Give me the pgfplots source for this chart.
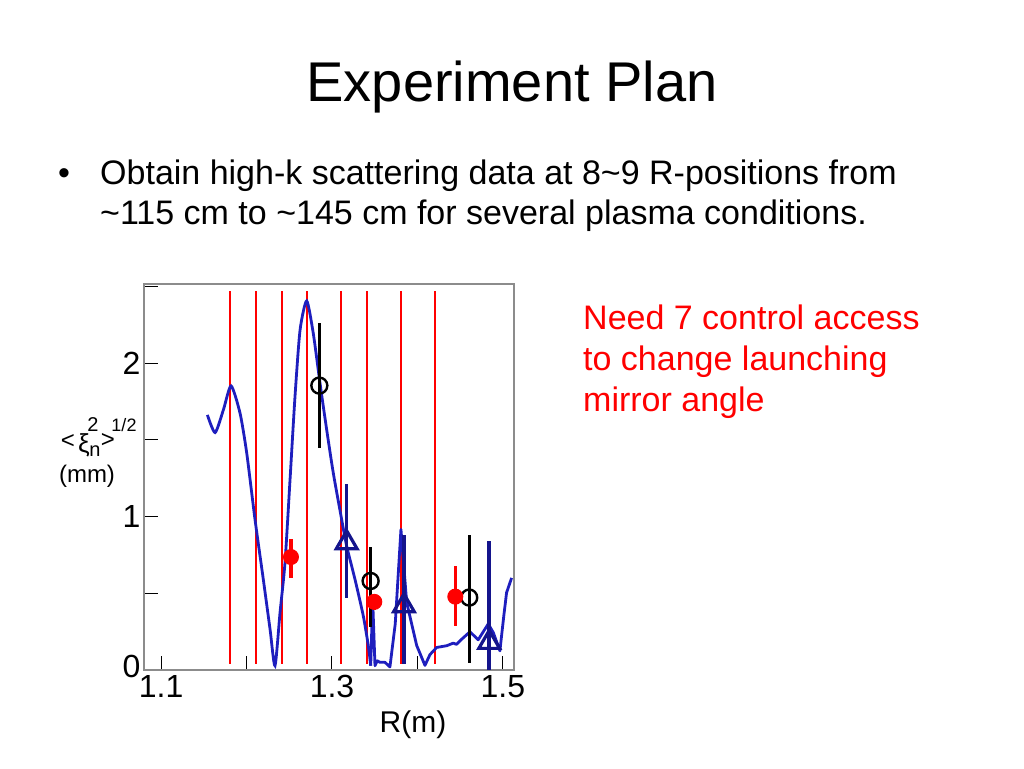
\documentclass[border=0pt]{standalone}
\usepackage{fontspec}
\setmainfont{Liberation Sans}
\usepackage{pgfplots}
\pgfplotsset{compat=1.18}
\definecolor{curveblue}{RGB}{30,30,190}
\definecolor{markblue}{RGB}{20,20,140}
\definecolor{framegray}{RGB}{140,140,140}
\begin{document}
\begin{tikzpicture}
\path[use as bounding box] (0pt,0pt) rectangle (1024pt,768pt);
% slide text
\node[anchor=base, inner sep=0pt, font=\fontsize{56}{56}\selectfont] at (512pt,666pt) {Experiment Plan};
\node[anchor=base west, inner sep=0pt, font=\fontsize{34}{34}\selectfont] at (58pt,583pt) {•};
\node[anchor=base west, inner sep=0pt, font=\fontsize{34}{34}\selectfont] at (100pt,583pt) {Obtain high-k scattering data at 8\textasciitilde 9 R-positions from};
\node[anchor=base west, inner sep=0pt, font=\fontsize{34}{34}\selectfont] at (100pt,543pt) {\textasciitilde 115 cm to \textasciitilde 145 cm for several plasma conditions.};
\node[anchor=base west, inner sep=0pt, text=red, font=\fontsize{34}{34}\selectfont] at (583pt,438pt) {Need 7 control access};
\node[anchor=base west, inner sep=0pt, text=red, font=\fontsize{34}{34}\selectfont] at (583pt,397pt) {to change launching};
\node[anchor=base west, inner sep=0pt, text=red, font=\fontsize{34}{34}\selectfont] at (583pt,356pt) {mirror angle};
% y label pieces
\node[inner sep=0pt, font=\fontsize{24}{24}\selectfont] at (68pt,326pt) {<};
\node[inner sep=0pt, font=\fontsize{26}{26}\selectfont] at (84pt,323pt) {ξ};
\node[inner sep=0pt, font=\fontsize{20}{20}\selectfont] at (93pt,343pt) {2};
\node[inner sep=0pt, font=\fontsize{20}{20}\selectfont] at (95pt,317pt) {n};
\node[inner sep=0pt, font=\fontsize{24}{24}\selectfont] at (108pt,327pt) {>};
\node[inner sep=0pt, font=\fontsize{18}{18}\selectfont] at (124pt,343pt) {1/2};
\node[inner sep=0pt, font=\fontsize{24}{24}\selectfont] at (87pt,292pt) {(mm)};
\begin{axis}[
    at={(144pt,98pt)}, anchor=south west,
    scale only axis, width=370pt, height=386pt,
    xmin=1.08, xmax=1.513, ymin=0, ymax=2.515,
    axis line style={framegray, line width=1.8pt},
    tick align=inside, xtick pos=left, ytick pos=left,
    major tick length=14pt,
    tick style={black, line width=1pt},
    xtick={1.1,1.2,1.3,1.4,1.5}, xticklabels={1.1,,1.3,,1.5},
    ytick={0,0.5,1,1.5,2,2.5}, yticklabels={\raisebox{8pt}{0},,1,,2,},
    /pgf/number format/assume math mode=true,
    ticklabel style={font=\fontsize{32}{32}\selectfont},
    xticklabel style={yshift=-2pt},
    xlabel={R(m)}, xlabel style={font=\fontsize{30}{30}\selectfont, xshift=84pt, yshift=-6pt},
    error bars/error mark=none,
]
% launch positions
\pgfplotsinvokeforeach{1.1807,1.2108,1.2411,1.2704,1.3105,1.3406,1.3803,1.4205}{
  \addplot[red, line width=2.2pt, forget plot] coordinates {(#1,0.04) (#1,2.47)};
}
% model profile, smooth part
\addplot[curveblue, line width=2.8pt, smooth, tension=0.4] coordinates {
(1.1542,1.662) (1.1632,1.547) (1.1729,1.695) (1.1819,1.851) (1.1924,1.673)
(1.2002,1.414) (1.2099,0.981) (1.2196,0.591) (1.2275,0.266) (1.2333,0.028)
(1.2392,0.375) (1.2450,0.699) (1.2509,1.240) (1.2567,1.781) (1.2626,2.214)
(1.2704,2.405) (1.2781,2.193) (1.2860,1.868) (1.2938,1.565) (1.3015,1.284)
(1.3113,0.981) (1.3172,0.807) (1.3269,0.591) (1.3366,0.353) (1.3425,0.158)
(1.3453,0.028)
};
% model profile, spiky part
\addplot[curveblue, line width=2.8pt, line join=round] coordinates {
(1.3453,0.028) (1.3476,0.46) (1.3503,0.028) (1.3530,0.06) (1.3561,0.05) (1.3620,0.05)
(1.3678,0.02) (1.3740,0.30) (1.3807,0.916) (1.3874,0.44) (1.3991,0.16) (1.4088,0.03)
(1.4146,0.10) (1.4225,0.147) (1.4342,0.158) (1.4419,0.175) (1.4458,0.167)
(1.4497,0.19) (1.4614,0.249) (1.4711,0.197) (1.4828,0.30) (1.4887,0.245)
(1.4965,0.125) (1.5010,0.35) (1.5043,0.504) (1.5102,0.60)
};
% measurements
\addplot[only marks, black, mark=o, mark size=8pt, line width=2.4pt,
  error bars/.cd, y dir=both, y explicit, error bar style={line width=3pt}]
  coordinates {
  (1.2852,1.853) += (0,0.405) -= (0,0.407)
  (1.3452,0.580) += (0,0.223) -= (0,0.303)
  (1.4606,0.472) += (0,0.405) -= (0,0.429)
};
\addplot[only marks, red, mark=*, mark size=7.5pt, line width=1pt,
  error bars/.cd, y dir=both, y explicit, error bar style={line width=3.5pt}]
  coordinates {
  (1.2520,0.736) += (0,0.115) -= (0,0.134)
  (1.3495,0.444) += (0,0.05) -= (0,0.05)
  (1.4443,0.478) += (0,0.199) -= (0,0.194)
};
\addplot[only marks, markblue, mark=triangle, mark size=12pt, line width=3.2pt,
  error bars/.cd, y dir=both, y explicit, error bar style={line width=3.5pt}]
  coordinates {
  (1.3172,0.829) += (0,0.383) -= (0,0.357)
  (1.3842,0.418) += (0,0.459) -= (0,0.379)
  (1.4840,0.180) += (0,0.660) -= (0,0.180)
};
\end{axis}
\end{tikzpicture}
\end{document}
